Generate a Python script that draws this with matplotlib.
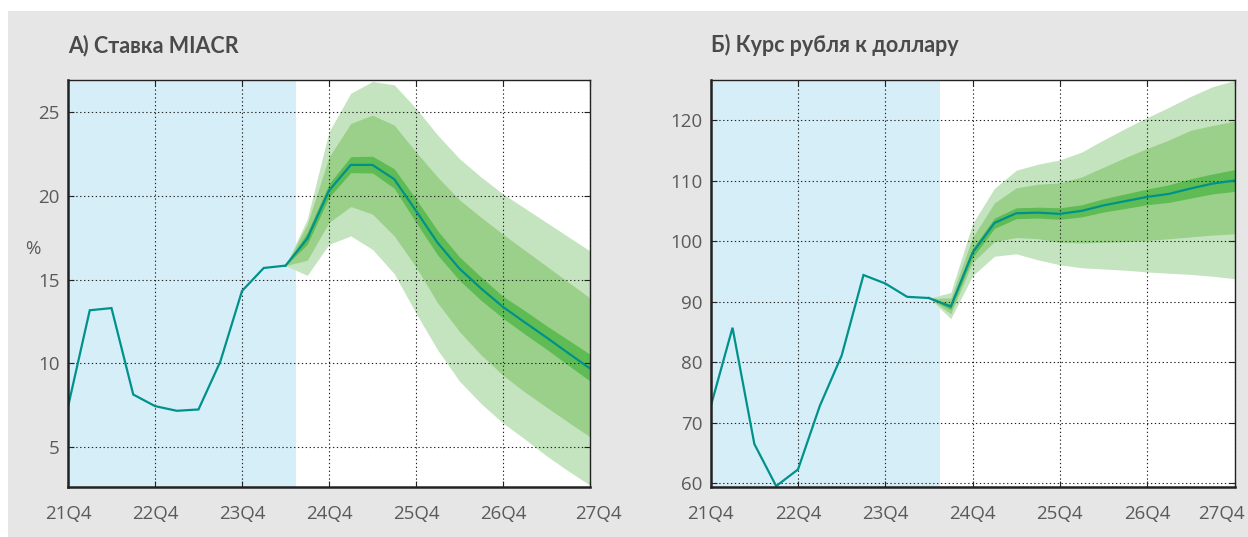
import matplotlib
matplotlib.use("Agg")
import matplotlib.pyplot as plt
from matplotlib.patches import Rectangle
from matplotlib.transforms import ScaledTranslation

# ---- data -------------------------------------------------------------
year_labels = ["21Q4", "22Q4", "23Q4", "24Q4", "25Q4", "26Q4", "27Q4"]
hist_q = list(range(0, 11))        # 21Q4 ... 24Q2
fc_q = list(range(10, 25))         # 24Q2 ... 27Q4

# Panel A: MIACR rate, %
miacr_hist = [7.42, 13.17, 13.30, 8.15, 7.46, 7.18, 7.26, 10.10, 14.32, 15.69, 15.83]
miacr_base = [15.83, 17.44, 20.30, 21.83, 21.83, 20.98, 19.10, 17.18, 15.65, 14.46,
              13.37, 12.45, 11.55, 10.62, 9.70]
miacr_in_hi = [15.83, 17.80, 20.70, 22.32, 22.35, 21.60, 19.80, 17.90, 16.35, 15.15,
               14.00, 13.15, 12.25, 11.40, 10.55]
miacr_in_lo = [15.83, 17.10, 19.90, 21.37, 21.35, 20.44, 18.40, 16.45, 14.95, 13.75,
               12.70, 11.75, 10.85, 9.90, 8.95]
miacr_mid_hi = [15.83, 18.30, 22.30, 24.30, 24.80, 24.20, 22.60, 21.10, 19.75, 18.70,
                17.70, 16.75, 15.80, 14.85, 13.90]
miacr_mid_lo = [15.83, 16.15, 18.40, 19.35, 18.90, 17.60, 15.75, 13.60, 11.90, 10.50,
                9.30, 8.30, 7.40, 6.50, 5.63]
miacr_out_hi = [15.83, 18.60, 23.80, 26.10, 26.80, 26.60, 25.20, 23.60, 22.20, 21.10,
                20.10, 19.25, 18.40, 17.55, 16.70]
miacr_out_lo = [15.83, 15.25, 17.10, 17.60, 16.80, 15.35, 13.00, 10.80, 8.95, 7.60,
                6.45, 5.50, 4.50, 3.60, 2.75]

# Panel B: rouble per US dollar
rub_hist = [72.7, 85.7, 66.5, 59.55, 62.3, 72.8, 81.1, 94.4, 93.0, 90.8, 90.6]
rub_base = [90.6, 89.2, 98.1, 103.0, 104.6, 104.7, 104.5, 105.0, 105.9, 106.6,
            107.3, 107.8, 108.7, 109.5, 110.0]
rub_in_hi = [90.6, 89.6, 98.8, 103.8, 105.5, 105.6, 105.5, 106.0, 107.0, 107.8,
             108.6, 109.3, 110.3, 111.1, 111.8]
rub_in_lo = [90.6, 88.7, 97.3, 102.1, 103.7, 103.8, 103.6, 104.0, 104.8, 105.4,
             106.0, 106.4, 107.1, 107.8, 108.2]
rub_mid_hi = [90.6, 90.6, 100.6, 106.3, 108.8, 109.4, 109.6, 110.6, 112.2, 113.8,
              115.3, 116.7, 118.3, 119.1, 119.8]
rub_mid_lo = [90.6, 88.0, 96.5, 99.9, 100.6, 100.4, 99.8, 99.7, 99.8, 99.9,
              100.1, 100.4, 100.7, 101.0, 101.2]
rub_out_hi = [90.6, 91.5, 102.9, 108.7, 111.7, 112.7, 113.4, 114.7, 116.7, 118.6,
              120.4, 122.1, 123.9, 125.5, 126.5]
rub_out_lo = [90.6, 87.2, 94.3, 97.5, 97.9, 96.9, 96.1, 95.6, 95.4, 95.2,
              94.9, 94.7, 94.5, 94.2, 93.8]

# ---- style ------------------------------------------------------------
TITLE_FONT = "Lato"
TICK_FONT = "Open Sans"
BG = "#e6e6e6"
HIST_SHADE = "#d6eef8"
LINE = "#00928a"
C_OUT = "#c4e3bf"
C_MID = "#9bd08b"
C_IN = "#5fbc55"
TXT = "#5a5a5a"
TITLE = "#4a4a4a"

W, H = 1248, 537
fig = plt.figure(figsize=(W / 100, H / 100), dpi=100, facecolor="white")
fig.patches.append(Rectangle((8 / W, 0), 1 - 8 / W, 1 - 11 / H,
                             transform=fig.transFigure, facecolor=BG,
                             edgecolor="none", zorder=-10))


def px_axes(x0, y0, x1, y1):
    return fig.add_axes([x0 / W, 1 - y1 / H, (x1 - x0) / W, (y1 - y0) / H])


def draw_panel(ax, hist, base, bands, ylim, yticks, title, title_x):
    ax.set_facecolor("white")
    ax.axvspan(0, 10.5, color=HIST_SHADE, lw=0, zorder=0)
    for (lo, hi), col in zip(bands, (C_OUT, C_MID, C_IN)):
        ax.fill_between(fc_q, lo, hi, color=col, lw=0, zorder=1)
    ax.plot(hist_q, hist, color=LINE, lw=1.6, zorder=3, solid_joinstyle="miter")
    ax.plot(fc_q, base, color=LINE, lw=1.6, zorder=3, solid_joinstyle="miter")

    ax.set_xlim(0, 24)
    ax.set_ylim(*ylim)
    ax.set_xticks(range(0, 25, 4))
    ax.set_xticklabels(year_labels)
    ax.set_yticks(yticks)
    ax.set_yticklabels([str(v) for v in yticks])
    ax.grid(True, color="#222222", lw=0.8, linestyle=(0, (1.2, 2.3)), zorder=2)
    ax.set_axisbelow(False)
    ax.tick_params(direction="in", length=4, width=0.8, color="#222222",
                   top=True, right=True, labelcolor=TXT, labelsize=13.5)
    ax.tick_params(axis="x", pad=13)
    ax.tick_params(axis="y", pad=6)
    for lbl in ax.get_xticklabels() + ax.get_yticklabels():
        lbl.set_fontfamily(TICK_FONT)
    for side, lw in (("left", 1.8), ("bottom", 1.8), ("top", 1.0), ("right", 1.0)):
        ax.spines[side].set_linewidth(lw)
        ax.spines[side].set_color("#222222")
        ax.spines[side].set_zorder(5)
    fig.text(title_x / W, 1 - 52 / H, title, fontsize=15.5, fontweight="bold",
             family=TITLE_FONT, color=TITLE, va="baseline", ha="left")


ax1 = px_axes(68, 80, 590, 487)
draw_panel(ax1, miacr_hist, miacr_base,
           [(miacr_out_lo, miacr_out_hi), (miacr_mid_lo, miacr_mid_hi),
            (miacr_in_lo, miacr_in_hi)],
           (2.64, 26.89), [5, 10, 15, 20, 25], "А) Ставка MIACR", 68)
fig.text(33 / W, 1 - 249 / H, "%", fontsize=13.5, family=TICK_FONT,
         color=TXT, ha="center", va="center")

ax2 = px_axes(710.7, 80, 1234.5, 486.7)
draw_panel(ax2, rub_hist, rub_base,
           [(rub_out_lo, rub_out_hi), (rub_mid_lo, rub_mid_hi),
            (rub_in_lo, rub_in_hi)],
           (59.45, 126.6), [60, 70, 80, 90, 100, 110, 120],
           "Б) Курс рубля к доллару", 711)

# nudge the final year labels so they stay inside the figure
lab1 = ax1.get_xticklabels()[-1]
lab1.set_transform(lab1.get_transform() + ScaledTranslation(8 / 100, 0, fig.dpi_scale_trans))
lab2 = ax2.get_xticklabels()[-1]
lab2.set_transform(lab2.get_transform() + ScaledTranslation(-13 / 100, 0, fig.dpi_scale_trans))

fig.savefig("out.png", dpi=100, facecolor=fig.get_facecolor())
